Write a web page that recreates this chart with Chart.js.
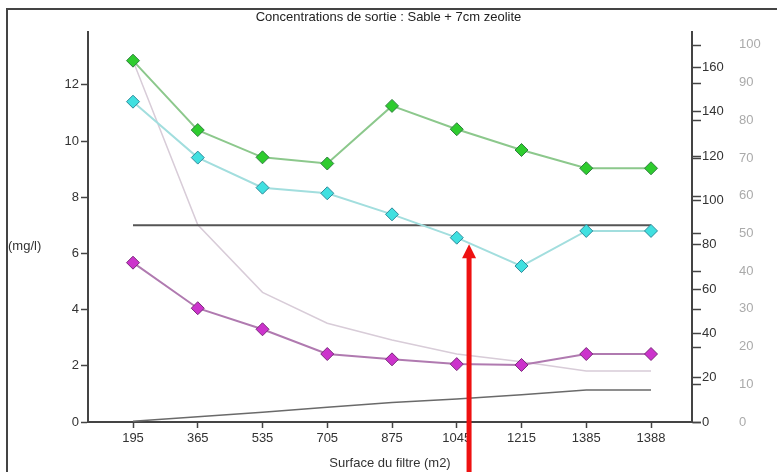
<!DOCTYPE html>
<html>
<head>
  <title>Concentrations de sortie</title>
  <script src="https://cdn.jsdelivr.net/npm/chart.js"></script>
  <style>
    body { margin: 0; background: #fff; }
    #wrap { position: relative; width: 777px; height: 472px; }
    #frame { position: absolute; left: 6px; top: 8px; right: 0; bottom: 0; border-left: 2px solid #444; border-top: 2px solid #444; }
    canvas { position: absolute; left: 0; top: 0; }
  </style>
</head>
<body>
<div id="wrap">
  <div id="frame"></div>
  <canvas id="chart" width="777" height="472"></canvas>
</div>
<script>
  // surfaces du filtre (m2), une par point
  var surfaces = ['195', '365', '535', '705', '875', '1045', '1215', '1385', '1388'];

  // concentrations (mg/l), axe de gauche
  var serieVerte  = [12.86, 10.39, 9.42, 9.20, 11.25, 10.42, 9.68, 9.03, 9.03];
  var serieCyan   = [11.40, 9.41, 8.34, 8.14, 7.39, 6.56, 5.55, 6.80, 6.80];
  var serieViolet = [5.67, 4.05, 3.30, 2.42, 2.23, 2.06, 2.03, 2.42, 2.42];
  var seuil       = [7, 7, 7, 7, 7, 7, 7, 7, 7];

  // courbes grises, axes de droite
  var courbeClaire = [163, 89, 58.5, 44.6, 37, 30.7, 27.2, 23, 23];   // axe 0-160
  var courbeSombre = [0.2, 1.4, 2.6, 3.9, 5.2, 6.1, 7.2, 8.5, 8.5];  // axe 0-100

  // fleche rouge (index de surface, valeur mg/l de la pointe)
  var flecheX = 5.19;
  var flecheY = 6.33;

  var police = "'Liberation Sans', Arial, sans-serif";
  Chart.defaults.font.family = police;

  function points(valeurs) {
    return valeurs.map(function(v, i) { return { x: i, y: v }; });
  }

  var extras = {
    id: 'extras',
    afterDraw: function(chart) {
      var ctx = chart.ctx, area = chart.chartArea;
      var x = chart.scales.x, y = chart.scales.y, y2 = chart.scales.y2;
      ctx.save();
      // graduations de l'echelle 0-100 sur l'axe de droite
      ctx.strokeStyle = '#444';
      ctx.lineWidth = 1.5;
      y2.ticks.forEach(function(t) {
        var py = Math.round(y2.getPixelForValue(t.value)) + 0.5;
        ctx.beginPath();
        ctx.moveTo(area.right, py);
        ctx.lineTo(area.right + 9, py);
        ctx.stroke();
      });
      // unite
      ctx.fillStyle = '#333';
      ctx.font = '13px ' + police;
      ctx.textAlign = 'left';
      ctx.textBaseline = 'middle';
      ctx.fillText('(mg/l)', 8, y.getPixelForValue(6.25));
      // fleche
      var ax = x.getPixelForValue(flecheX);
      var tip = y.getPixelForValue(flecheY);
      ctx.fillStyle = '#ee1111';
      ctx.fillRect(ax - 2.5, tip + 12, 5, chart.height - tip - 12);
      ctx.beginPath();
      ctx.moveTo(ax, tip);
      ctx.lineTo(ax + 7, tip + 14);
      ctx.lineTo(ax - 7, tip + 14);
      ctx.closePath();
      ctx.fill();
      ctx.restore();
    }
  };

  var marqueur = { pointStyle: 'rectRot', pointRadius: 6.5, pointBorderWidth: 1, borderWidth: 2, tension: 0 };

  new Chart(document.getElementById('chart'), {
    type: 'line',
    data: {
      datasets: [
        Object.assign({ data: points(serieVerte), yAxisID: 'y', borderColor: '#8cc88c',
          pointBackgroundColor: '#2ecc2e', pointBorderColor: '#2f7f3f' }, marqueur),
        Object.assign({ data: points(serieCyan), yAxisID: 'y', borderColor: '#a2dede',
          pointBackgroundColor: '#40e0e0', pointBorderColor: '#2f8a9a' }, marqueur),
        Object.assign({ data: points(serieViolet), yAxisID: 'y', borderColor: '#b07ab0',
          pointBackgroundColor: '#cc33cc', pointBorderColor: '#7a2a7a' }, marqueur),
        { data: points(seuil), yAxisID: 'y', borderColor: '#555', borderWidth: 2, pointRadius: 0 },
        { data: points(courbeClaire), yAxisID: 'y1', borderColor: '#d8ccd8', borderWidth: 1.5, pointRadius: 0 },
        { data: points(courbeSombre), yAxisID: 'y2', borderColor: '#6a6a6a', borderWidth: 1.5, pointRadius: 0 }
      ]
    },
    options: {
      responsive: false,
      animation: false,
      layout: { padding: 0 },
      plugins: {
        legend: { display: false },
        tooltip: { enabled: false },
        title: {
          display: true,
          text: 'Concentrations de sortie : Sable + 7cm zeolite',
          color: '#222',
          font: { size: 13, weight: 'normal' },
          padding: { top: 10, bottom: 6.4 }
        }
      },
      scales: {
        x: {
          type: 'linear',
          min: -0.695,
          max: 8.633,
          afterFit: function(s) { s.height = 50; },
          grid: { drawOnChartArea: false, tickLength: 6, tickColor: '#444', tickWidth: 1.5 },
          border: { color: '#444', width: 2 },
          ticks: {
            stepSize: 1, includeBounds: false, autoSkip: false, maxRotation: 0,
            padding: 3, color: '#333', font: { size: 13 },
            callback: function(v) { return surfaces[v] !== undefined ? surfaces[v] : ''; }
          },
          title: { display: true, text: 'Surface du filtre (m2)', color: '#333',
            font: { size: 13 }, padding: { top: 0, bottom: 1 } }
        },
        y: {
          position: 'left',
          min: 0,
          max: 13.88,
          afterFit: function(s) { s.width = 88; },
          grid: { drawOnChartArea: false, tickLength: 7, tickColor: '#444', tickWidth: 1.5 },
          border: { color: '#444', width: 2 },
          ticks: { stepSize: 2, includeBounds: false, padding: 2, color: '#333', font: { size: 13 } }
        },
        y1: {
          position: 'right',
          weight: 0,
          min: 0,
          max: 176,
          afterFit: function(s) { s.width = 40; },
          grid: { drawOnChartArea: false, tickLength: 9, tickColor: '#444', tickWidth: 1.5 },
          border: { color: '#444', width: 2 },
          ticks: { stepSize: 20, includeBounds: false, padding: 1, color: '#333', font: { size: 13 } }
        },
        y2: {
          position: 'right',
          weight: 1,
          min: 0,
          max: 103.4,
          afterFit: function(s) { s.width = 45; },
          grid: { display: false, drawTicks: false },
          border: { display: false },
          ticks: { stepSize: 10, includeBounds: false, padding: 7, color: '#aaa', font: { size: 13 } }
        }
      }
    },
    plugins: [extras]
  });
</script>
</body>
</html>
